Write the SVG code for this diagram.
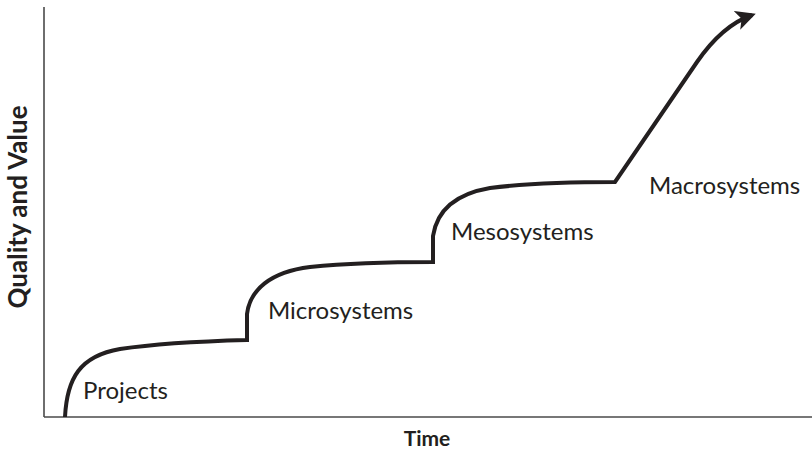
<svg xmlns="http://www.w3.org/2000/svg" width="812" height="451" viewBox="0 0 812 451">
<style>
.axis{stroke:#4a4a4a;stroke-width:1.6;fill:none}
.curve{stroke:#231f20;stroke-width:4;fill:none;stroke-linejoin:miter}
.lbl{font-family:Lato,"Open Sans",sans-serif;font-size:24px;fill:#231f20}
.ax{font-family:Lato,"Open Sans",sans-serif;font-size:21px;font-weight:bold;fill:#231f20}
</style>
<defs>
<marker id="arr" viewBox="0 0 10 10" refX="8" refY="5" markerWidth="5" markerHeight="5" orient="auto" markerUnits="strokeWidth">
<path d="M0,0 L10,5 L0,10 L2.5,5 Z" fill="#231f20"/>
</marker>
</defs>
<g id="axes">
<line class="axis" x1="44" y1="7" x2="44" y2="417"/>
<line class="axis" x1="44" y1="417" x2="812" y2="417"/>
</g>
<g id="connectors">
<path class="curve" marker-end="url(#arr)" d="M65,417 C67,378 80,356 120,349 C160,343 210,341 247,340 L247,314 C250,290 270,272 310,267 C350,263 400,262 433,262 L433,236 C437,210 455,194 490,188 C530,183 580,182 615,182 L697,62 C715,36 732,22 752,15"/>
</g>
<g id="projects"><text class="lbl" x="83" y="399">Projects</text></g>
<g id="microsystems"><text class="lbl" x="268" y="319">Microsystems</text></g>
<g id="mesosystems"><text class="lbl" x="451" y="240">Mesosystems</text></g>
<g id="macrosystems"><text class="lbl" x="649" y="194">Macrosystems</text></g>
<g id="time"><text class="ax" x="427" y="446" text-anchor="middle">Time</text></g>
<g id="quality"><text class="ax" style="font-size:26px" transform="translate(27,207) rotate(-90)" text-anchor="middle">Quality and Value</text></g>
</svg>
